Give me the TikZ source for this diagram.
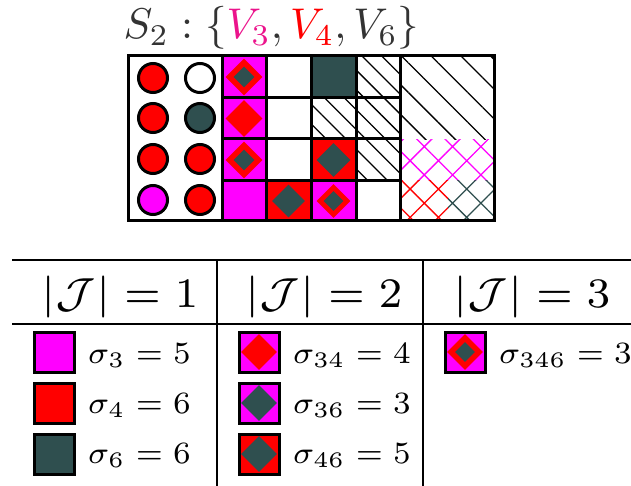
\documentclass[tikz,border=0pt]{standalone}
\usepackage{amsmath}
\usepackage{amssymb}
\usepackage{xcolor}
\usepackage{tikz}
\usetikzlibrary{shapes.geometric,patterns.meta}

\definecolor{slate}{RGB}{47,79,79}
\definecolor{fuchsia}{RGB}{255,0,255}
\definecolor{rosy}{RGB}{235,20,140}
\definecolor{ink}{RGB}{51,51,51}

\begin{document}
\begin{tikzpicture}[x=1pt,y=-1pt,
  thickline/.style={line width=3pt},
  rule/.style={line width=2.5pt},
  dot/.style={circle,draw=black,line width=3pt,minimum size=29pt,inner sep=0pt},
  sq/.style={rectangle,draw=black,line width=3pt,minimum size=40pt,inner sep=0pt},
  gem/.style={diamond,inner sep=0pt,minimum size=#1},
  hdr/.style={font=\scriptsize,scale=6.0,inner sep=0pt,anchor=base},
  lab/.style={font=\scriptsize,scale=4.43,inner sep=0pt,anchor=base west},
  hatch/.style={pattern={Lines[angle=-45,distance=#1,line width=1.3pt]}},
  xhatch/.style={pattern={Hatch[angle=45,distance=20pt,line width=1.3pt]},pattern color=#1}]
\useasboundingbox (0,0) rectangle (631,486);

% title
\node[ink,scale=4.3,inner sep=0pt,anchor=base] (title) at (271.5,39)
  {$S_2 : \{\textcolor{rosy}{V_3}, \textcolor{red}{V_4}, V_6\}$};

% circles
\node[dot,fill=red] (a1) at (153,78) {};
\node[dot,fill=red] (a2) at (153,118) {};
\node[dot,fill=red] (a3) at (153,159) {};
\node[dot,fill=fuchsia] (a4) at (153,200) {};
\node[dot,fill=white] (b1) at (200,78) {};
\node[dot,fill=slate] (b2) at (200,118) {};
\node[dot,fill=red] (b3) at (200,159) {};
\node[dot,fill=red] (b4) at (200,200) {};

% column 1
\fill[fuchsia] (222,56) rectangle (266,221);
\node[gem=37pt,fill=red] (c11) at (244,77) {};
\node[gem=21pt,fill=slate] (c11i) at (c11) {};
\node[gem=37pt,fill=red] (c21) at (244,118.5) {};
\node[gem=37pt,fill=red] (c31) at (244,160) {};
\node[gem=21pt,fill=slate] (c31i) at (c31) {};
% column 2
\fill[red] (266,181) rectangle (311,221);
\node[gem=33pt,fill=slate] (c42) at (288.5,201) {};
% column 3
\fill[slate] (311,56) rectangle (356,98);
\fill[hatch=14pt] (311,98) rectangle (356,139);
\fill[red] (311,139) rectangle (356,181);
\node[gem=34pt,fill=slate] (c33) at (333.5,160) {};
\fill[fuchsia] (311,181) rectangle (356,221);
\node[gem=34pt,fill=red] (c43) at (333.5,201) {};
\node[gem=20pt,fill=slate] (c43i) at (c43) {};
% column 4
\fill[hatch=14pt] (356,56) rectangle (400,181);

% big block
\fill[hatch=21pt] (400,56) rectangle (494,140);
\fill[xhatch=fuchsia] (400,140) rectangle (494,181);
\fill[xhatch=red] (400,181) rectangle (448,221);
\fill[xhatch=slate] (448,181) rectangle (494,221);

% grid
\draw[thickline] (128,56) rectangle (494,221);
\foreach \x in {222,266,311,356,400}
  \draw[thickline] (\x,56) -- (\x,221);
\foreach \y in {98,139,181}
  \draw[thickline] (222,\y) -- (400,\y);

% table
\draw[rule] (12,260) -- (631,260);
\draw[rule] (12,324) -- (631,324);
\draw[rule] (217,260) -- (217,486);
\draw[rule] (423,260) -- (423,486);

\node[hdr] (h1) at (120,307) {$|\mathcal{J}| = 1$};
\node[hdr] (h2) at (324,307) {$|\mathcal{J}| = 2$};
\node[hdr] (h3) at (532,307) {$|\mathcal{J}| = 3$};

% |J| = 1
\node[sq,fill=fuchsia] (i3) at (54,352) {};
\node[lab] (s3) at (87,363) {$\sigma_3 = 5$};
\node[sq,fill=red] (i4) at (54,403) {};
\node[lab] (s4) at (87,413) {$\sigma_4 = 6$};
\node[sq,fill=slate] (i6) at (54,454) {};
\node[lab] (s6) at (87,463) {$\sigma_6 = 6$};

% |J| = 2
\node[sq,fill=fuchsia] (i34) at (259,352) {};
\node[gem=36pt,fill=red] (g34) at (i34) {};
\node[lab] (s34) at (292,363) {$\sigma_{34} = 4$};
\node[sq,fill=fuchsia] (i36) at (259,403) {};
\node[gem=36pt,fill=slate] (g36) at (i36) {};
\node[lab] (s36) at (292,413) {$\sigma_{36} = 3$};
\node[sq,fill=red] (i46) at (259,454) {};
\node[gem=36pt,fill=slate] (g46) at (i46) {};
\node[lab] (s46) at (292,463) {$\sigma_{46} = 5$};

% |J| = 3
\node[sq,fill=fuchsia] (i346) at (465,352) {};
\node[gem=36pt,fill=red] (g346) at (i346) {};
\node[gem=20pt,fill=slate] (g346i) at (i346) {};
\node[lab] (s346) at (498,363) {$\sigma_{346} = 3$};
\end{tikzpicture}
\end{document}
